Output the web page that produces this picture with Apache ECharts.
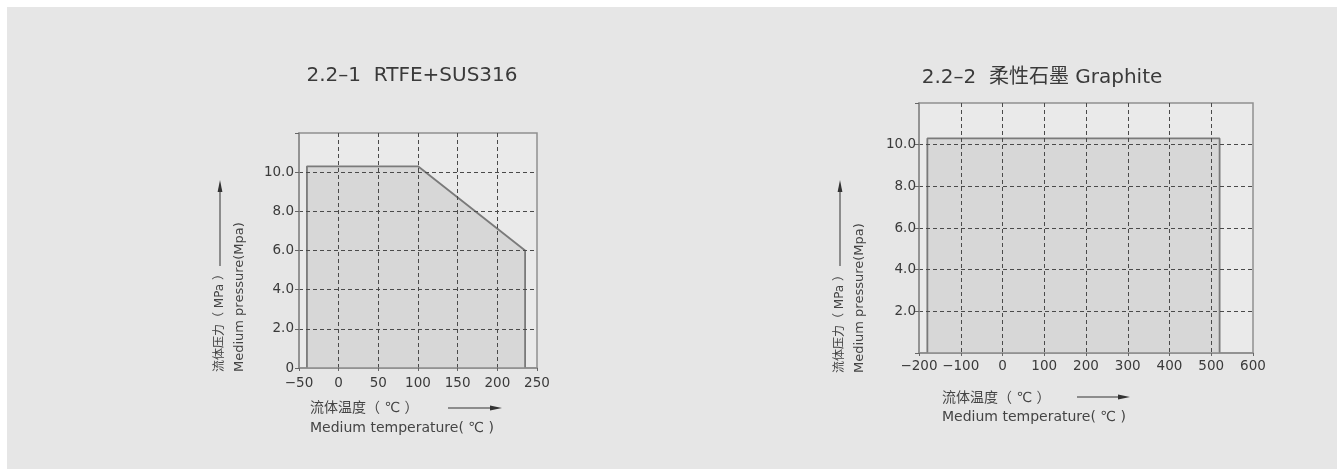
<!DOCTYPE html>
<html>
<head>
<meta charset="utf-8">
<script src="https://cdn.jsdelivr.net/npm/echarts@6/dist/echarts.min.js"></script>
<style>
html,body{margin:0;padding:0;background:#fff;}
#panel{position:absolute;left:7px;top:7px;right:0;bottom:0;background:#e6e6e6;}
#chart{position:absolute;left:0;top:0;width:1337px;height:469px;}
</style>
</head>
<body>
<div id="panel"></div>
<div id="chart"></div>
<script>
// Chart 1: RTFE+SUS316 — pressure/temperature envelope
const temp1 = [-40, -40, 100, 235, 235];
const pres1 = [0, 10.3, 10.3, 6.0, 0];
const xTicks1 = [-50, 0, 50, 100, 150, 200, 250];
const yTicks1 = [0, 2, 4, 6, 8, 10, 12];
// Chart 2: 柔性石墨 Graphite
const temp2 = [-180, -180, 520, 520];
const pres2 = [0, 10.3, 10.3, 0];
const xTicks2 = [-200, -100, 0, 100, 200, 300, 400, 500, 600];
const yTicks2 = [0, 2, 4, 6, 8, 10, 12];

const title1 = '2.2–1  RTFE+SUS316';
const title2 = '2.2–2  柔性石墨 Graphite';
const yNameCn = '流体压力（ MPa ）';
const yNameEn = 'Medium pressure(Mpa)';
const xNameCn = '流体温度（ ℃ ）';
const xNameEn = 'Medium temperature( ℃ )';

const FONT = '"DejaVu Sans", "Noto Sans CJK SC", sans-serif';
const chart = echarts.init(document.getElementById('chart'));

function pairs(xs, ys){ return xs.map((x,i)=>[x, ys[i]]); }
function fmtX(v){ return String(v).replace('-', '−'); }

const axisLineStyle = {color:'#8c8c8c', width:1.5};
const splitStyle = {color:'#4a4a4a', width:1, type:[4,3]};

function xAxis(idx, ticks, margin){
  return {
    type:'value', gridIndex:idx, min:ticks[0], max:ticks[ticks.length-1],
    interval: ticks[1]-ticks[0], z:3,
    axisLine:{show:true, onZero:false, lineStyle:axisLineStyle},
    axisTick:{show:true, length:3, lineStyle:{color:'#666'}},
    axisLabel:{color:'#3a3a3a', fontSize:13.5, fontFamily:FONT, margin:margin, formatter:fmtX},
    splitLine:{show:true, showMinLine:false, showMaxLine:false, lineStyle:splitStyle}
  };
}
function yAxis(idx, ticks, showZero, margin){
  return {
    type:'value', gridIndex:idx, min:ticks[0], max:ticks[ticks.length-1],
    interval: ticks[1]-ticks[0], z:3,
    axisLine:{show:true, onZero:false, lineStyle:axisLineStyle},
    axisTick:{show:true, length:4, inside:false, lineStyle:{color:'#666'}},
    axisLabel:{color:'#3a3a3a', fontSize:13.5, fontFamily:FONT, margin:margin,
      formatter:(v)=> v===0 ? (showZero?'0':'') : (v===ticks[ticks.length-1] ? '' : v.toFixed(1))},
    splitLine:{show:true, showMinLine:false, showMaxLine:false, lineStyle:splitStyle}
  };
}

function txt(x,y,text,size,rot,align){
  return {type:'text', x:x, y:y, rotation:rot||0,
    style:{text:text, fill:'#444', font:size+'px '+FONT, align:align||'left', verticalAlign:'middle'}};
}
function hArrow(x1,x2,y){
  return [
    {type:'line', shape:{x1:x1,y1:y,x2:x2-8,y2:y}, style:{stroke:'#333', lineWidth:1}},
    {type:'polygon', shape:{points:[[x2-12,y-2.4],[x2,y],[x2-12,y+2.4]]}, style:{fill:'#333'}}
  ];
}
function vArrow(x,y1,y2){
  return [
    {type:'line', shape:{x1:x,y1:y1,x2:x,y2:y2+8}, style:{stroke:'#333', lineWidth:1}},
    {type:'polygon', shape:{points:[[x-2.4,y2+12],[x,y2],[x+2.4,y2+12]]}, style:{fill:'#333'}}
  ];
}

const seriesStyle = {
  type:'line', symbol:'none', smooth:false,
  lineStyle:{color:'#7a7a7a', width:1.8},
  areaStyle:{color:'#d7d7d7', opacity:1},
  z:1
};

chart.setOption({
  animation:false,
  backgroundColor:'transparent',
  title:[
    {text:title1, left:407, top:61, textAlign:'center',
     textStyle:{fontSize:20, fontWeight:'normal', color:'#3a3a3a', fontFamily:FONT}},
    {text:title2, left:1037, top:63, textAlign:'center',
     textStyle:{fontSize:20, fontWeight:'normal', color:'#3a3a3a', fontFamily:FONT}}
  ],
  grid:[
    {left:299, right:800, top:133, bottom:101, show:true, backgroundColor:'#eaeaea', borderColor:'#909090', borderWidth:1.5},
    {left:919, right:84, top:103, bottom:116, show:true, backgroundColor:'#eaeaea', borderColor:'#909090', borderWidth:1.5}
  ],
  xAxis:[xAxis(0, xTicks1, 9), xAxis(1, xTicks2, 7)],
  yAxis:[yAxis(0, yTicks1, true, 5), yAxis(1, yTicks2, false, 3)],
  series:[
    Object.assign({}, seriesStyle, {xAxisIndex:0, yAxisIndex:0, data:pairs(temp1, pres1)}),
    Object.assign({}, seriesStyle, {xAxisIndex:1, yAxisIndex:1, data:pairs(temp2, pres2)})
  ],
  graphic:[
    txt(220, 372, yNameCn, 12, Math.PI/2),
    txt(240, 372, yNameEn, 13, Math.PI/2),
    ...vArrow(220, 266, 180),
    txt(310, 408, xNameCn, 14),
    txt(310, 428, xNameEn, 14),
    ...hArrow(448, 502, 408),
    txt(840, 373, yNameCn, 12, Math.PI/2),
    txt(860, 373, yNameEn, 13, Math.PI/2),
    ...vArrow(840, 266, 180),
    txt(942, 398, xNameCn, 14),
    txt(942, 417, xNameEn, 14),
    ...hArrow(1077, 1130, 397)
  ]
});
</script>
</body>
</html>
